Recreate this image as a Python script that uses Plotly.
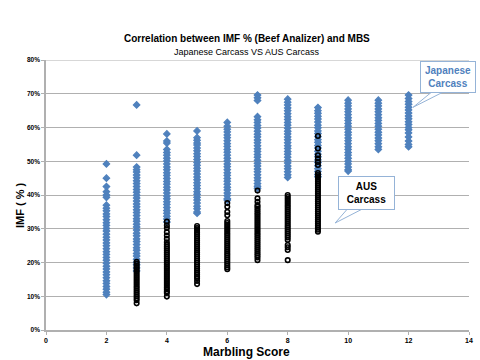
import plotly.graph_objects as go

# ---- Data (IMF % by marbling score) ----
JP_SCORES = [2, 3, 4, 5, 6, 7, 8, 9, 10, 11, 12]
JP_2 = [49.2, 45.0, 42.5, 41.0, 40.0, 39.3, 37.0, 36.1, 35.3, 34.4, 33.6, 32.7, 31.8, 31.0, 30.1, 29.3,
        28.4, 27.5, 26.7, 25.8, 25.0, 24.1, 23.2, 22.4, 21.5, 20.7, 19.8, 18.9, 18.1, 17.2, 16.4, 15.5,
        14.6, 13.8, 12.9, 12.1, 11.2, 10.5]
JP_3 = [66.7, 51.8, 48.3, 47.5, 46.8, 45.9, 45.1, 44.2, 43.4, 42.5, 41.6, 40.8, 39.9, 39.1, 38.2, 37.3,
        36.5, 35.6, 34.8, 33.9, 33.0, 32.2, 31.3, 30.5, 29.6, 28.7, 27.9, 27.0, 26.2, 25.3, 24.4, 23.6,
        22.7, 21.9, 21.0, 20.1, 19.3, 18.4, 17.5]
JP_4 = [58.1, 56.0, 55.4, 53.5, 52.6, 51.8, 50.9, 50.1, 49.2, 48.3, 47.5, 46.6, 45.8, 44.9, 44.0, 43.2,
        42.3, 41.5, 40.6, 39.7, 38.9, 38.0, 37.2, 36.3, 35.4, 34.6, 33.7, 32.9, 32.0]
JP_5 = [59.0, 57.0, 56.2, 55.4, 54.8, 53.9, 53.1, 52.2, 51.4, 50.5, 49.6, 48.8, 47.9, 47.1, 46.2, 45.3,
        44.5, 43.6, 42.8, 41.9, 41.0, 40.2, 39.3, 38.5, 37.6, 36.7, 35.9, 35.0, 34.6]
JP_6 = [61.5, 60.4, 59.5, 58.7, 57.8, 57.0, 56.1, 55.2, 54.4, 53.5, 52.7, 51.8, 50.9, 50.1, 49.2, 48.4,
        47.5, 46.6, 45.8, 44.9, 44.1, 43.2, 42.3, 41.5, 40.6, 39.8, 38.9, 38.5]
JP_7 = [69.6, 68.8, 68.0, 63.2, 62.3, 61.5, 60.6, 59.8, 58.9, 58.0, 57.2, 56.3, 55.5, 54.6, 53.7, 52.9,
        52.0, 51.2, 50.3, 49.4, 48.6, 47.7, 46.9, 46.0, 45.1, 44.3, 43.4, 42.6, 42.0]
JP_8 = [68.4, 67.5, 66.7, 65.8, 65.0, 64.1, 63.2, 62.4, 61.5, 60.7, 59.8, 58.9, 58.1, 57.2, 56.4, 55.5,
        54.6, 53.8, 52.9, 52.1, 51.2, 50.3, 49.5, 48.6, 47.8, 46.9, 46.0, 45.2]
JP_9 = [65.9, 65.0, 64.2, 63.3, 62.5, 61.6, 60.7, 59.9, 59.0, 58.2, 57.3, 56.4, 55.6, 54.7, 53.9, 53.0,
        52.1, 51.3, 50.4, 49.6, 48.7, 47.8, 47.0, 46.1, 45.4]
JP_10 = [68.1, 67.2, 66.4, 65.5, 64.7, 63.8, 62.9, 62.1, 61.2, 60.4, 59.5, 58.6, 57.8, 56.9, 56.1, 55.2,
         54.3, 53.5, 52.6, 51.8, 50.9, 50.0, 49.2, 48.3, 47.5, 47.1]
JP_11 = [68.1, 67.2, 66.4, 65.5, 64.7, 63.8, 62.9, 62.1, 61.2, 60.4, 59.5, 58.6, 57.8, 56.9, 56.1, 55.2,
         54.3, 53.5]
JP_12 = [69.6, 68.6, 67.7, 66.9, 66.0, 65.2, 64.3, 63.4, 62.6, 61.7, 60.9, 60.0, 59.3, 58.4, 57.2, 56.0,
         55.0, 54.3]

AUS_SCORES = [3, 4, 5, 6, 7, 8, 9]
AUS_3 = [20.2, 19.6, 19.0, 18.4, 17.8, 17.2, 16.6, 16.0, 15.4, 14.8, 14.2, 13.6, 13.0, 12.4, 11.8, 11.2,
         10.6, 10.0, 9.4, 8.8, 7.9]
AUS_4 = [32.1, 31.0, 30.2, 29.0, 28.0, 27.0, 26.0, 25.3, 24.7, 24.1, 23.5, 22.9, 22.3, 21.7, 21.1, 20.5,
         19.9, 19.3, 18.7, 18.1, 17.5, 16.9, 16.3, 15.7, 15.1, 14.5, 13.9, 13.3, 12.7, 12.1, 11.5, 11.0, 9.9]
AUS_5 = [30.8, 30.2, 29.6, 29.0, 28.4, 27.8, 27.2, 26.6, 26.0, 25.4, 24.8, 24.2, 23.6, 23.0, 22.4, 21.8,
         21.2, 20.6, 20.0, 19.4, 18.8, 18.2, 17.6, 17.0, 16.4, 15.8, 15.3, 14.5, 13.6]
AUS_6 = [37.6, 36.5, 35.0, 34.0, 32.3, 31.7, 31.1, 30.5, 29.9, 29.3, 28.7, 28.1, 27.5, 26.9, 26.3, 25.7,
         25.1, 24.5, 23.9, 23.3, 22.7, 22.1, 21.5, 20.9, 20.3, 19.7, 19.1, 18.5, 18.0]
AUS_7 = [41.3, 39.0, 38.0, 37.0, 36.5, 35.9, 35.3, 34.7, 34.1, 33.5, 32.9, 32.3, 31.7, 31.1, 30.5, 29.9,
         29.3, 28.7, 28.1, 27.5, 26.9, 26.3, 25.7, 25.1, 24.5, 23.9, 23.3, 22.7, 22.1, 21.5, 20.7]
AUS_8 = [40.0, 39.4, 38.8, 38.2, 37.6, 37.0, 36.4, 35.8, 35.2, 34.6, 34.0, 33.4, 32.8, 32.2, 31.6, 31.0,
         30.4, 29.8, 29.2, 28.6, 28.0, 27.4, 26.7, 25.2, 24.5, 23.7, 20.7]
AUS_9 = [57.5, 53.8, 51.8, 50.8, 49.8, 48.9, 46.5, 45.9, 45.3, 44.7, 44.1, 43.5, 42.9, 42.3, 41.7, 41.1,
         40.5, 39.9, 39.3, 38.7, 38.1, 37.5, 36.9, 36.3, 35.7, 35.1, 34.5, 33.9, 33.3, 32.7, 32.1, 31.5,
         30.9, 30.3, 29.7, 29.1]

X_TICKS = [0, 2, 4, 6, 8, 10, 12, 14]
Y_TICKS = [0, 10, 20, 30, 40, 50, 60, 70, 80]
Y_TICK_LABELS = ["0%", "10%", "20%", "30%", "40%", "50%", "60%", "70%", "80%"]

TITLE = "Correlation between IMF % (Beef Analizer) and MBS"
SUBTITLE = "Japanese Carcass VS AUS Carcass"

# ---- Build point lists ----
jp_cols = [JP_2, JP_3, JP_4, JP_5, JP_6, JP_7, JP_8, JP_9, JP_10, JP_11, JP_12]
aus_cols = [AUS_3, AUS_4, AUS_5, AUS_6, AUS_7, AUS_8, AUS_9]
jx, jy = [], []
for s, col in zip(JP_SCORES, jp_cols):
    jx += [s] * len(col)
    jy += col
ax_, ay_ = [], []
for s, col in zip(AUS_SCORES, aus_cols):
    ax_ += [s] * len(col)
    ay_ += col

BLUE = "#4F81BD"
GRID = "#B0B0B0"
FONT = "Liberation Sans"

fig = go.Figure()
fig.add_trace(go.Scatter(x=jx, y=jy, mode="markers", name="Japanese Carcass",
                         marker=dict(symbol="diamond", size=5, color=BLUE,
                                     line=dict(width=1.2, color=BLUE)),
                         showlegend=False))
fig.add_trace(go.Scatter(x=ax_, y=ay_, mode="markers", name="AUS Carcass",
                         marker=dict(symbol="circle-open", size=4.5, color="black",
                                     line=dict(width=1.6, color="black")),
                         showlegend=False))

fig.update_layout(
    width=480, height=360,
    margin=dict(l=46, r=11, t=60, b=30),
    plot_bgcolor="white", paper_bgcolor="white",
    font=dict(family=FONT, color="black"),
    xaxis=dict(range=[0, 14], tickvals=X_TICKS, showgrid=False, zeroline=False,
               showline=True, linecolor=GRID, linewidth=1.5, ticks="outside", ticklen=3,
               tickcolor=GRID, tickfont=dict(size=7, family=FONT, weight="bold"), automargin=False),
    yaxis=dict(range=[0, 80], tickvals=Y_TICKS, ticktext=Y_TICK_LABELS, showgrid=True,
               gridcolor=GRID, gridwidth=1.2, zeroline=False, showline=True, linecolor=GRID,
               linewidth=1.5, ticks="outside", ticklen=3, tickcolor=GRID,
               tickfont=dict(size=6.5, family=FONT, weight="bold"), automargin=False),
)

annotations = [
    dict(text="<b>" + TITLE + "</b>", xref="paper", yref="paper", x=0.475, y=1.081,
         showarrow=False, font=dict(size=10, family=FONT), xanchor="center", yanchor="middle"),
    dict(text=SUBTITLE, xref="paper", yref="paper", x=0.475, y=1.030,
         showarrow=False, font=dict(size=9, family=FONT), xanchor="center", yanchor="middle"),
    dict(text="<b>Marbling Score</b>", xref="paper", yref="paper", x=0.473, y=-0.081,
         showarrow=False, font=dict(size=12, family=FONT), xanchor="center", yanchor="middle"),
    dict(text="<b>IMF ( % )</b>", xref="paper", yref="paper", x=-0.0615, y=0.463, textangle=-90,
         showarrow=False, font=dict(size=11, family=FONT), xanchor="center", yanchor="middle"),
    dict(text="<b>Japanese<br>Carcass</b>", xref="x", yref="y", x=13.32, y=75.1, showarrow=False,
         font=dict(size=10, family=FONT, color=BLUE), bgcolor="white", bordercolor="#95B3D7",
         borderwidth=1, width=52, height=28, align="center"),
    dict(text="<b>AUS<br>Carcass</b>", xref="x", yref="y", x=10.61, y=40.6, showarrow=False,
         font=dict(size=10, family=FONT, color="black"), bgcolor="white", bordercolor="#95B3D7",
         borderwidth=1, width=53, height=30, align="center"),
]
fig.update_layout(annotations=annotations)

fig.add_shape(type="path", xref="x", yref="y",
              path="M 12.75,70.4 L 12.15,66.0 L 13.12,70.4",
              line=dict(color="#95B3D7", width=1), fillcolor="white", layer="above")
fig.add_shape(type="path", xref="x", yref="y",
              path="M 9.97,35.8 L 9.57,31.7 L 10.46,35.8",
              line=dict(color="#95B3D7", width=1), fillcolor="white", layer="above")
fig.add_shape(type="line", xref="paper", yref="y", x0=0, x1=1, y0=80, y1=80,
              line=dict(color=GRID, width=1.2), layer="below")

fig.write_html("out.html", config={"displayModeBar": False},
               post_script="document.body.style.margin='0';document.body.style.overflow='hidden';")
